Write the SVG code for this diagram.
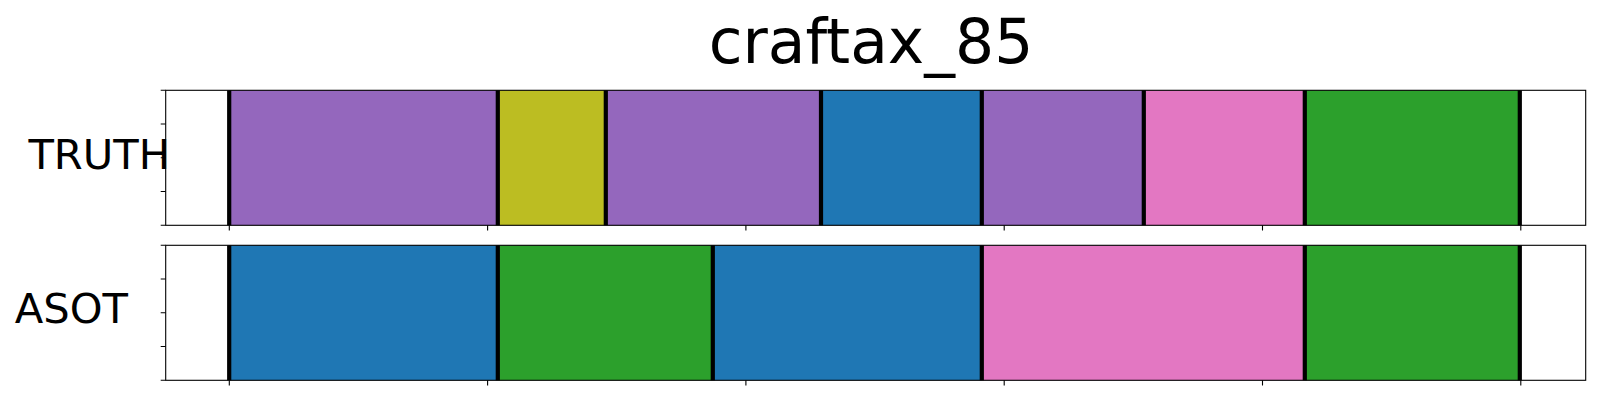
<svg xmlns="http://www.w3.org/2000/svg" width="1600" height="400" viewBox="0 0 1600 400">
  <style>
    .purple { fill: #9467bd; }
    .olive { fill: #bcbd22; }
    .blue { fill: #1f77b4; }
    .pink { fill: #e377c2; }
    .green { fill: #2ca02c; }
    .bar { fill: #000000; }
    .spine { fill: none; stroke: #000000; stroke-width: 1.1; }
    .tick { stroke: #000000; stroke-width: 1.1; }
    .lbl { font-family: "DejaVu Sans", sans-serif; font-size: 41.67px; fill: #000000; }
    .title { font-family: "DejaVu Sans", sans-serif; font-size: 61.5px; fill: #000000; text-anchor: middle; }
  </style>
  <rect x="0" y="0" width="1600" height="400" fill="#ffffff"/>
  <text class="title" x="871" y="63.3">craftax_85</text>

  <g id="truth">
    <rect x="165.7" y="90.3" width="1420" height="135" fill="#ffffff"/>
    <rect class="purple" x="229.2" y="90.3" width="268.6" height="135"/>
    <rect class="olive" x="497.8" y="90.3" width="108" height="135"/>
    <rect class="purple" x="605.8" y="90.3" width="215.2" height="135"/>
    <rect class="blue" x="821" y="90.3" width="160.8" height="135"/>
    <rect class="purple" x="981.8" y="90.3" width="162" height="135"/>
    <rect class="pink" x="1143.8" y="90.3" width="161" height="135"/>
    <rect class="green" x="1304.8" y="90.3" width="215" height="135"/>
    <rect class="bar" x="227.1" y="90.3" width="4.2" height="135"/>
    <rect class="bar" x="495.7" y="90.3" width="4.2" height="135"/>
    <rect class="bar" x="603.7" y="90.3" width="4.2" height="135"/>
    <rect class="bar" x="818.9" y="90.3" width="4.2" height="135"/>
    <rect class="bar" x="979.7" y="90.3" width="4.2" height="135"/>
    <rect class="bar" x="1141.7" y="90.3" width="4.2" height="135"/>
    <rect class="bar" x="1302.7" y="90.3" width="4.2" height="135"/>
    <rect class="bar" x="1517.7" y="90.3" width="4.2" height="135"/>
    <rect class="spine" x="165.7" y="90.3" width="1420" height="135"/>
    <path class="tick" d="M160.7 90.3H165.7M160.7 124H165.7M160.7 157.8H165.7M160.7 191.5H165.7M160.7 225.3H165.7"/>
    <path class="tick" d="M229.3 225.3V230.5M487.6 225.3V230.5M745.9 225.3V230.5M1004.2 225.3V230.5M1262.5 225.3V230.5M1520.8 225.3V230.5"/>
    <text class="lbl" x="28.4" y="169.3">TRUTH</text>
  </g>

  <g id="asot">
    <rect x="165.7" y="245.3" width="1420" height="135" fill="#ffffff"/>
    <rect class="blue" x="229.2" y="245.3" width="268.6" height="135"/>
    <rect class="green" x="497.8" y="245.3" width="215" height="135"/>
    <rect class="blue" x="712.8" y="245.3" width="269" height="135"/>
    <rect class="pink" x="981.8" y="245.3" width="323" height="135"/>
    <rect class="green" x="1304.8" y="245.3" width="215" height="135"/>
    <rect class="bar" x="227.1" y="245.3" width="4.2" height="135"/>
    <rect class="bar" x="495.7" y="245.3" width="4.2" height="135"/>
    <rect class="bar" x="710.7" y="245.3" width="4.2" height="135"/>
    <rect class="bar" x="979.7" y="245.3" width="4.2" height="135"/>
    <rect class="bar" x="1302.7" y="245.3" width="4.2" height="135"/>
    <rect class="bar" x="1517.7" y="245.3" width="4.2" height="135"/>
    <rect class="spine" x="165.7" y="245.3" width="1420" height="135"/>
    <path class="tick" d="M160.7 245.3H165.7M160.7 279H165.7M160.7 312.8H165.7M160.7 346.5H165.7M160.7 380.3H165.7"/>
    <path class="tick" d="M229.3 380.3V385.5M487.6 380.3V385.5M745.9 380.3V385.5M1004.2 380.3V385.5M1262.5 380.3V385.5M1520.8 380.3V385.5"/>
    <text class="lbl" x="14.7" y="322.7">ASOT</text>
  </g>

  <g id="connectors"></g>
</svg>
